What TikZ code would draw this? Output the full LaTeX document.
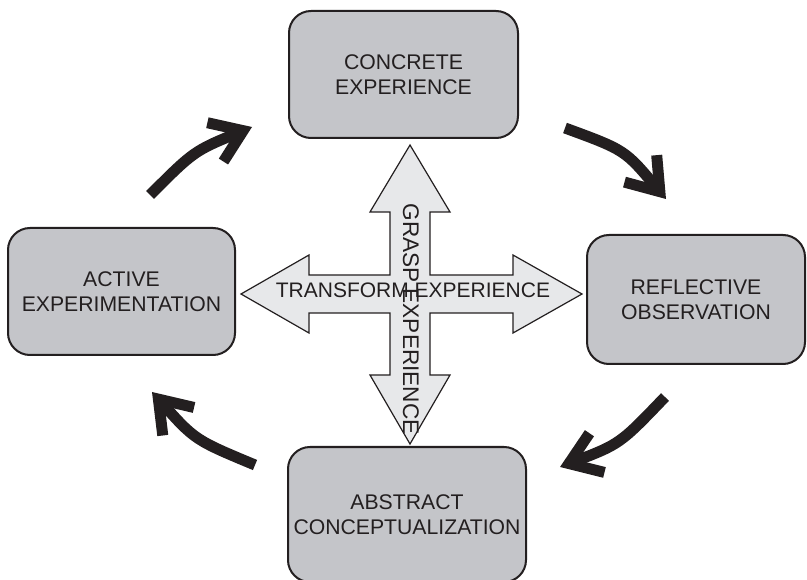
\documentclass[tikz,border=0pt]{standalone}
\usepackage{fontspec}
\setmainfont{Liberation Sans}
\usetikzlibrary{arrows.meta}
\definecolor{boxgray}{RGB}{196,197,201}
\definecolor{crossgray}{RGB}{231,232,234}
\definecolor{ink}{RGB}{35,31,32}

\begin{document}
\begin{tikzpicture}[x=1pt,y=-1pt,
  stage/.style={draw=ink,line width=2pt,fill=boxgray,rounded corners=22pt,
    align=center,inner sep=0pt,text=ink,font=\fontsize{21.2}{25.5}\selectfont},
  cycle arrow/.style={draw=ink,line width=11pt,-{Straight Barb[length=30pt,width=42pt]}},
  axislabel/.style={inner sep=0pt,text=ink,font=\fontsize{21}{25}\selectfont}]
\useasboundingbox (0,0) rectangle (807,580);

\node[stage,minimum width=229pt,minimum height=127pt] (ce) at (403.5,74.5) {CONCRETE\\EXPERIENCE};
\node[stage,minimum width=218pt,minimum height=129pt] (ro) at (696,299.5) {REFLECTIVE\\OBSERVATION};
\node[stage,minimum width=238pt,minimum height=135pt] (ac) at (407,514.5) {ABSTRACT\\CONCEPTUALIZATION};
\node[stage,minimum width=227pt,minimum height=127pt] (ae) at (121.5,291.5) {ACTIVE\\EXPERIMENTATION};

\draw[ink,fill=crossgray,line width=1.2pt]
  (410,145) -- (450,212) -- (430,212) -- (430,275) -- (513,275) -- (513,255) --
  (582,294) -- (513,333) -- (513,313) -- (430,313) -- (430,375) -- (450,375) --
  (410,444) -- (370,375) -- (390,375) -- (390,313) -- (309,313) -- (309,333) --
  (241,294) -- (309,255) -- (309,275) -- (390,275) -- (390,212) -- (370,212) -- cycle;

\node[axislabel] (transform) at (413,290.3) {TRANSFORM EXPERIENCE};
\node[axislabel,rotate=-90,font=\fontsize{22.6}{25}\selectfont] (grasp) at (411,319) {GRASP EXPERIENCE};

\coordinate (ae-out) at (150,195);
\coordinate (ae-bend) at (194,151);
\coordinate (ce-in) at (252,127);
\coordinate (ce-out) at (565,128);
\coordinate (ce-bend) at (625,150);
\coordinate (ro-in) at (666,199);
\coordinate (ro-out) at (665,397);
\coordinate (ro-bend) at (620,444);
\coordinate (ac-in) at (560,467);
\coordinate (ac-out) at (255,465);
\coordinate (ac-bend) at (195,440);
\coordinate (ae-in) at (152,392);

\draw[cycle arrow] (ae-out) .. controls (ae-bend) .. (ce-in);
\draw[cycle arrow] (ce-out) .. controls (ce-bend) .. (ro-in);
\draw[cycle arrow] (ro-out) .. controls (ro-bend) .. (ac-in);
\draw[cycle arrow] (ac-out) .. controls (ac-bend) .. (ae-in);
\end{tikzpicture}
\end{document}
